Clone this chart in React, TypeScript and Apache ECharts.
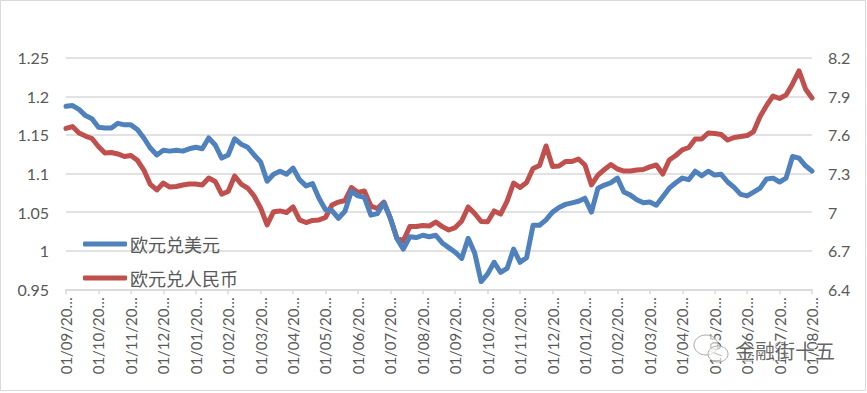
import React, { useEffect, useRef } from 'react';
import * as echarts from 'echarts';

// Sample months (Sep 2021 .. Jul 2023) and sampled days within each month
const months = [
  '2021-09', '2021-10', '2021-11', '2021-12',
  '2022-01', '2022-02', '2022-03', '2022-04', '2022-05', '2022-06',
  '2022-07', '2022-08', '2022-09', '2022-10', '2022-11', '2022-12',
  '2023-01', '2023-02', '2023-03', '2023-04', '2023-05', '2023-06', '2023-07',
];
const sampleDays = ['01', '07', '13', '19', '25'];
const lastDate = '2023-08-01';
const dates: string[] = [
  ...months.flatMap((m) => sampleDays.map((d) => `${m}-${d}`)),
  lastDate,
];

const seriesNames = ['欧元兑美元', '欧元兑人民币'];

// EUR/USD (left axis)
const eurUsd = [
  1.187, 1.188, 1.183, 1.175, 1.171,
  1.160, 1.159, 1.159, 1.165, 1.163,
  1.163, 1.157, 1.146, 1.133, 1.124,
  1.130, 1.129, 1.130, 1.129, 1.132,
  1.134, 1.132, 1.146, 1.137, 1.120,
  1.124, 1.145, 1.138, 1.134, 1.124,
  1.115, 1.090, 1.099, 1.103, 1.099,
  1.107, 1.092, 1.084, 1.087, 1.068,
  1.053, 1.052, 1.042, 1.051, 1.077,
  1.071, 1.069, 1.046, 1.048, 1.062,
  1.042, 1.016, 1.002, 1.018, 1.017,
  1.020, 1.018, 1.020, 1.010, 1.004,
  0.998, 0.990, 1.016, 0.997, 0.960,
  0.970, 0.985, 0.972, 0.977, 1.002,
  0.985, 0.991, 1.033, 1.033, 1.040,
  1.050, 1.056, 1.060, 1.062, 1.064,
  1.068, 1.050, 1.081, 1.085, 1.088,
  1.094, 1.076, 1.072, 1.066, 1.062,
  1.063, 1.059, 1.070, 1.081, 1.088,
  1.094, 1.092, 1.103, 1.097, 1.103,
  1.098, 1.099, 1.089, 1.082, 1.073,
  1.071, 1.076, 1.081, 1.093, 1.094,
  1.089, 1.094, 1.122, 1.120, 1.110,
  1.103,
];

// EUR/CNY (right axis)
const eurCny = [
  7.650, 7.665, 7.615, 7.591, 7.572,
  7.510, 7.459, 7.463, 7.452, 7.432,
  7.440, 7.403, 7.327, 7.215, 7.172,
  7.226, 7.195, 7.199, 7.211, 7.218,
  7.218, 7.211, 7.265, 7.238, 7.140,
  7.160, 7.281, 7.218, 7.187, 7.125,
  7.032, 6.900, 7.003, 7.009, 6.997,
  7.040, 6.939, 6.919, 6.935, 6.939,
  6.958, 7.055, 7.078, 7.090, 7.191,
  7.152, 7.164, 7.047, 7.028, 7.078,
  6.954, 6.799, 6.775, 6.888, 6.888,
  6.896, 6.892, 6.923, 6.887, 6.861,
  6.880, 6.931, 7.040, 6.989, 6.927,
  6.925, 7.009, 6.985, 7.086, 7.226,
  7.191, 7.230, 7.339, 7.362, 7.514,
  7.354, 7.358, 7.393, 7.393, 7.413,
  7.366, 7.211, 7.288, 7.331, 7.370,
  7.335, 7.319, 7.319, 7.327, 7.331,
  7.351, 7.366, 7.296, 7.405, 7.440,
  7.483, 7.502, 7.568, 7.568, 7.615,
  7.611, 7.603, 7.560, 7.580, 7.588,
  7.595, 7.626, 7.743, 7.829, 7.902,
  7.883, 7.910, 7.996, 8.097, 7.957,
  7.887,
];

const leftAxis = { min: 0.95, max: 1.25, step: 0.05 };
const rightAxis = { min: 6.4, max: 8.2 };

const watermarkText = '金融街十五';

const isMonthStart = (_i: number, v: string) => v.endsWith('-01');
const fmtDate = (v: string) => {
  const [y, m, d] = v.split('-');
  return `${d}/${m}/${y.slice(0, 2)}…`;
};
const fmtNum = (v: number) => String(+v.toFixed(2));

const LABEL_COLOR = '#595959';
const GRID_COLOR = '#d9d9d9';
const FONT = 'Lato, "Open Sans", sans-serif';
const BLUE = '#4F81BD';
const RED = '#C0504D';

export default function App() {
  const ref = useRef<HTMLDivElement>(null);

  useEffect(() => {
    if (!ref.current) return;
    const chart = echarts.init(ref.current, undefined, { renderer: 'svg' });
    chart.setOption({
      animation: false,
      backgroundColor: '#ffffff',
      grid: { left: 66, right: 55, top: 57.7, bottom: 103.7, containLabel: false },
      legend: {
        orient: 'vertical',
        left: 78,
        top: 230,
        icon: 'roundRect',
        itemWidth: 44,
        itemHeight: 5,
        itemGap: 16,
        data: seriesNames,
        textStyle: {
          fontFamily: '"Noto Sans CJK SC", sans-serif',
          fontSize: 18,
          lineHeight: 18,
          color: LABEL_COLOR,
          padding: [0, 0, 0, -2],
        },
      },
      xAxis: {
        type: 'category',
        data: dates,
        boundaryGap: false,
        axisLine: { lineStyle: { color: GRID_COLOR, width: 1.5 } },
        axisTick: {
          interval: isMonthStart,
          length: 5,
          lineStyle: { color: GRID_COLOR, width: 1.5 },
        },
        axisLabel: {
          interval: isMonthStart,
          rotate: 90,
          margin: 8,
          color: LABEL_COLOR,
          fontFamily: FONT,
          fontSize: 15,
          formatter: fmtDate,
        },
        splitLine: { show: false },
      },
      yAxis: [
        {
          type: 'value',
          min: leftAxis.min,
          max: leftAxis.max,
          interval: leftAxis.step,
          axisLine: { show: false },
          axisTick: { show: false },
          axisLabel: {
            margin: 17,
            color: LABEL_COLOR,
            fontFamily: FONT,
            fontSize: 16,
            formatter: fmtNum,
          },
          splitLine: { lineStyle: { color: GRID_COLOR, width: 1.5 } },
        },
        {
          type: 'value',
          position: 'right',
          min: rightAxis.min,
          max: rightAxis.max,
          alignTicks: true,
          axisLine: { show: false },
          axisTick: { show: false },
          axisLabel: {
            margin: 16,
            color: LABEL_COLOR,
            fontFamily: FONT,
            fontSize: 16,
            formatter: fmtNum,
          },
          splitLine: { show: false },
        },
      ],
      series: [
        {
          name: seriesNames[0],
          type: 'line',
          yAxisIndex: 0,
          data: eurUsd,
          symbol: 'none',
          lineStyle: { color: BLUE, width: 5, cap: 'round', join: 'round' },
          itemStyle: { color: BLUE },
          z: 3,
        },
        {
          name: seriesNames[1],
          type: 'line',
          yAxisIndex: 1,
          data: eurCny,
          symbol: 'none',
          lineStyle: { color: RED, width: 5, cap: 'round', join: 'round' },
          itemStyle: { color: RED },
          z: 2,
        },
      ],
      graphic: [
        {
          type: 'rect',
          shape: { x: 0.5, y: 0.5, width: 865, height: 390 },
          style: { fill: 'none', stroke: GRID_COLOR, lineWidth: 1 },
          silent: true,
        },
        {
          type: 'ellipse',
          shape: { cx: 706, cy: 345, rx: 12, ry: 10 },
          style: { fill: 'rgba(255,255,255,0.6)', stroke: '#aaaaaa', lineWidth: 1 },
          z: 10,
        },
        {
          type: 'ellipse',
          shape: { cx: 718, cy: 354, rx: 10, ry: 8 },
          style: { fill: 'rgba(255,255,255,0.6)', stroke: '#aaaaaa', lineWidth: 1 },
          z: 10,
        },
        {
          type: 'text',
          x: 735,
          y: 350,
          style: {
            text: watermarkText,
            fontFamily: '"Noto Sans CJK SC", sans-serif',
            fontSize: 20,
            fill: 'rgba(60,60,60,0.8)',
            stroke: 'rgba(255,255,255,0.7)',
            lineWidth: 2,
            verticalAlign: 'middle',
          },
          z: 10,
        },
      ],
    });
    return () => chart.dispose();
  }, []);

  return (
    <div
      ref={ref}
      style={{ position: 'fixed', left: 0, top: 0, width: 867, height: 393, background: '#fff' }}
    />
  );
}
